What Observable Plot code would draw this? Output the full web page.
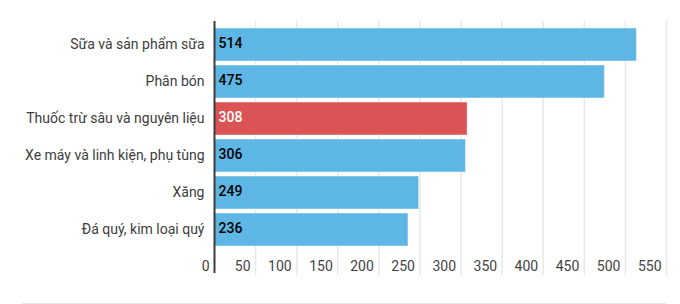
<!DOCTYPE html>
<html>
<head>
<meta charset="utf-8">
<script src="https://cdn.jsdelivr.net/npm/d3@7"></script>
<script src="https://cdn.jsdelivr.net/npm/@observablehq/plot@0.6"></script>
<style>
  html, body { margin: 0; padding: 0; background: #fff; }
  #chart svg { display: block; }
  .baseline { margin-left: 22px; width: 644px; border-top: 1px solid #e6e6e6; }
</style>
</head>
<body>
<div id="chart"></div>
<div class="baseline"></div>
<script>
const categories = [
  "Sữa và sản phẩm sữa",
  "Phân bón",
  "Thuốc trừ sâu và nguyên liệu",
  "Xe máy và linh kiện, phụ tùng",
  "Xăng",
  "Đá quý, kim loại quý"
];
const values = [514, 475, 308, 306, 249, 236];
const highlighted = [false, false, true, false, false, false];
const xTicks = [0, 50, 100, 150, 200, 250, 300, 350, 400, 450, 500, 550];

const BLUE = "#5eb6e4";
const RED = "#dc5356";

const data = categories.map((c, i) => ({category: c, value: values[i], hi: highlighted[i]}));

const chart = Plot.plot({
  width: 680,
  height: 303,
  marginLeft: 214,
  marginRight: 14,
  marginTop: 23,
  marginBottom: 51,
  style: {fontFamily: "Roboto, sans-serif", fontSize: "14px", background: "#fff"},
  x: {domain: [0, 550], axis: null, label: null},
  y: {domain: categories, padding: 0.1, axis: null, label: null},
  marks: [
    Plot.ruleX(xTicks.slice(1), {x: d => d, stroke: "#e8e8e8", strokeWidth: 1.5, insetTop: -2, insetBottom: -23}),
    Plot.barX(data, {
      x: "value", y: "category",
      fill: d => d.hi ? RED : BLUE,
      stroke: "#ffffff", strokeOpacity: 0.45, strokeWidth: 1
    }),
    Plot.ruleX([0], {x: d => d, stroke: "#3a3a3a", strokeWidth: 2, insetTop: -2, insetBottom: -21}),
    Plot.axisY({tickSize: 0, tickPadding: 10, fontSize: 14, fill: "#3d3d3d", label: null}),
    Plot.text(data, {
      x: () => 0, y: "category", text: d => String(d.value),
      dx: 4, dy: -1, textAnchor: "start", fontSize: 14, fontWeight: 500,
      fill: d => d.hi ? "#ffffff" : "#000000"
    }),
    Plot.axisX(xTicks, {tickSize: 0, tickPadding: 9, textAnchor: "end", dx: -5, fontSize: 14, fill: "#444444", label: null, tickFormat: d => String(d)})
  ]
});
document.getElementById("chart").appendChild(chart);
</script>
</body>
</html>
